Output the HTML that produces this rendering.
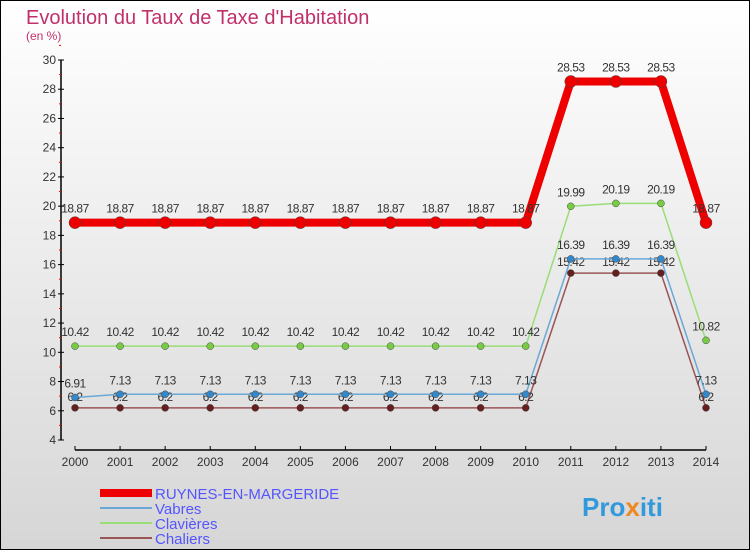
<!DOCTYPE html>
<html><head><meta charset="utf-8"><style>
body{margin:0}
#c{width:750px;height:550px;position:relative;overflow:hidden}
svg text{font-family:"Liberation Sans",sans-serif}
</style></head><body>
<div id="c">
<svg id="s" width="750" height="550" xmlns="http://www.w3.org/2000/svg">
<defs><linearGradient id="bg" x1="0" y1="0" x2="0" y2="1"><stop offset="0" stop-color="#ffffff"/><stop offset="1" stop-color="#d6d6d6"/></linearGradient></defs>
<rect x="0.5" y="0.5" width="749" height="549" fill="url(#bg)" stroke="#000"/>
<text x="26" y="24" font-size="20" fill="#c0306a">Evolution du Taux de Taxe d'Habitation</text>
<text x="26" y="40" font-size="12" fill="#c0306a">(en %)</text>
<g id="axes"></g><g id="series"></g>
<g>
<rect x="100" y="489" width="52" height="8" fill="#e00"/>
<text x="155" y="499" font-size="15" fill="#5555ff">RUYNES-EN-MARGERIDE</text>
<rect x="100" y="507" width="52" height="2" fill="#6aa8d8"/>
<text x="155" y="514" font-size="15" fill="#5555ff">Vabres</text>
<rect x="100" y="522" width="52" height="2" fill="#99dd77"/>
<text x="155" y="529" font-size="15" fill="#5555ff">Clavières</text>
<rect x="100" y="537" width="52" height="2" fill="#995555"/>
<text x="155" y="544" font-size="15" fill="#5555ff">Chaliers</text>
</g>
<text x="582" y="516" font-size="26" font-weight="bold" fill="#3399dd">Pro<tspan fill="#ee8822">x</tspan>iti</text>
</svg></div>
<script>
const years=[2000,2001,2002,2003,2004,2005,2006,2007,2008,2009,2010,2011,2012,2013,2014];
const yTicks=[4,6,8,10,12,14,16,18,20,22,24,26,28,30];
const ruynes=[18.87,18.87,18.87,18.87,18.87,18.87,18.87,18.87,18.87,18.87,18.87,28.53,28.53,28.53,18.87];
const vabres=[6.91,7.13,7.13,7.13,7.13,7.13,7.13,7.13,7.13,7.13,7.13,16.39,16.39,16.39,7.13];
const clavieres=[10.42,10.42,10.42,10.42,10.42,10.42,10.42,10.42,10.42,10.42,10.42,19.99,20.19,20.19,10.82];
const chaliers=[6.2,6.2,6.2,6.2,6.2,6.2,6.2,6.2,6.2,6.2,6.2,15.42,15.42,15.42,6.2];
const NS="http://www.w3.org/2000/svg";
const X=i=>75+i*(706-75)/(years.length-1);
const Y=v=>440-(v-4)*(380/26);
function mk(tag,attrs,parent,txt){const e=document.createElementNS(NS,tag);for(const k in attrs)e.setAttribute(k,attrs[k]);if(txt!==undefined)e.textContent=txt;parent.appendChild(e);return e;}
const ax=document.getElementById('axes');
let yl=mk('line',{x1:61,y1:60,x2:61,y2:440,stroke:'#000','stroke-width':1.5},ax);


yTicks.forEach(t=>{
 let l=mk('line',{x1:58,x2:64,y1:Y(t),y2:Y(t),stroke:'#000'},ax);
 
 
 let m=mk('line',{x1:59,x2:61,y1:Y(t+1),y2:Y(t+1),stroke:'#f00'},ax);
 
 
 let tx=mk('text',{x:56,y:Y(t)+4,'font-size':12,fill:'#333','text-anchor':'end'},ax,t);
 
 
});
let xl=mk('line',{x1:75,y1:450,x2:706,y2:450,stroke:'#000','stroke-width':1.5},ax);


years.forEach((yv,i)=>{
 let l=mk('line',{x1:X(i),x2:X(i),y1:446,y2:450,stroke:'#000'},ax);
 
 
 let tx=mk('text',{x:X(i),y:466,'font-size':12,fill:'#333','text-anchor':'middle'},ax,yv);
 
 
});
const sg=document.getElementById('series');
function series(name,vals,color,w,r,dot,lab){
 const g=mk('g',{},sg);
 
 
 const p=mk('polyline',{points:vals.map((v,i)=>X(i)+','+Y(v)).join(' '),fill:'none',stroke:color,'stroke-width':w,'stroke-linejoin':'round'},g);
 
 
 vals.forEach((v,i)=>{
  const c=mk('circle',{cx:X(i),cy:Y(v),r:r,fill:dot,stroke:'#444','stroke-width':0.5},g);
  
  
  if(lab){const t=mk('text',{x:X(i),y:Y(v)+lab,'font-size':12,fill:'#333','text-anchor':'middle','letter-spacing':'-0.5'},g,v);
  
  }
 });
}
series('chaliers',chaliers,'#995555',1.5,3.5,'#661f1f',-7);
series('clavieres',clavieres,'#99dd77',1.5,3.5,'#77cc44',-10);
series('vabres',vabres,'#6aa8d8',1.5,3.5,'#3388cc',-10);
series('ruynes',ruynes,'#ee0000',8,6,'#ee0000',-10);
</script>
</body></html>
